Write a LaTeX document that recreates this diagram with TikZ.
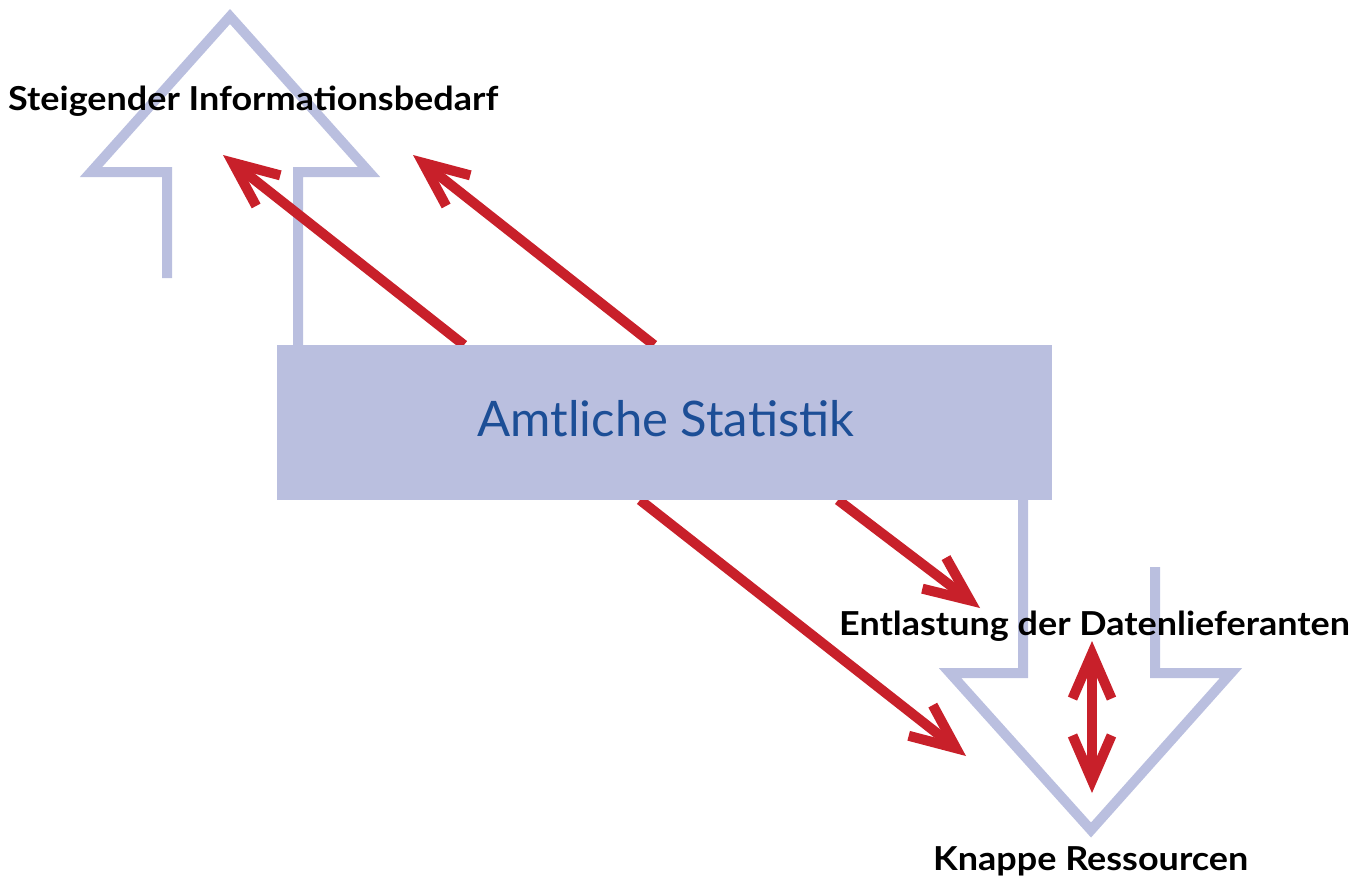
\documentclass[tikz,border=0pt]{standalone}
\usepackage{fontspec}
\setmainfont{Lato}
\usetikzlibrary{arrows.meta}
\definecolor{lav}{RGB}{186,191,223}
\definecolor{redarr}{RGB}{200,32,42}
\definecolor{statblue}{RGB}{28,78,150}
\newcommand{\widetext}[1]{\scalebox{1.09}[1]{#1}}
\begin{document}
\begin{tikzpicture}[x=1pt,y=-1pt,
  outline/.style={draw=lav,line width=10pt,line join=miter,line cap=butt},
  redarrow/.style={draw=redarr,line width=10pt,line cap=butt,
    -{Straight Barb[length=45pt,width=39pt]}},
  reddouble/.style={draw=redarr,line width=10pt,line cap=butt,
    {Straight Barb[length=45pt,width=39pt]}-{Straight Barb[length=45pt,width=39pt]}},
  label/.style={inner sep=0pt,anchor=base west,font=\fontsize{33}{40}\selectfont\bfseries},
  statbox/.style={fill=lav,inner sep=0pt,minimum width=775pt,minimum height=155pt}]
\useasboundingbox (0,0) rectangle (1367,876);
% light outline arrows
\draw[outline] (167,278) -- (167,172) -- (91,172) -- (230,16.5) -- (369,172) -- (298,172) -- (298,345);
\draw[outline] (1023,500) -- (1023,673) -- (950,673) -- (1091,830) -- (1231,673) -- (1155,673) -- (1155,567);
% coordinates
\coordinate (s1) at (464,345);
\coordinate (t1) at (223,155);
\coordinate (s2) at (654,345);
\coordinate (t2) at (413,155);
\coordinate (s3) at (838,500);
\coordinate (t3) at (980,608);
\coordinate (s4) at (640,500);
\coordinate (t4) at (966,756);
\coordinate (d1) at (1092,641);
\coordinate (d2) at (1092,793);
% red arrows
\draw[redarrow] (s1) -- (t1);
\draw[redarrow] (s2) -- (t2);
\draw[redarrow] (s3) -- (t3);
\draw[redarrow] (s4) -- (t4);
\draw[reddouble] (d1) -- (d2);
% box
\node[statbox] (stat) at (664.5,422.5) {};
\node[inner sep=0pt,anchor=base,text=statblue,font=\fontsize{49}{58}\selectfont] (amt) at (666,436) {Amtliche Statistik};
% labels
\node[label] (info) at (8,110) {\widetext{Steigender Informationsbedarf}};
\node[label] (entl) at (839,635) {\widetext{Entlastung der Datenlieferanten}};
\node[label] (knap) at (933,870) {\widetext{Knappe Ressourcen}};
\end{tikzpicture}
\end{document}
